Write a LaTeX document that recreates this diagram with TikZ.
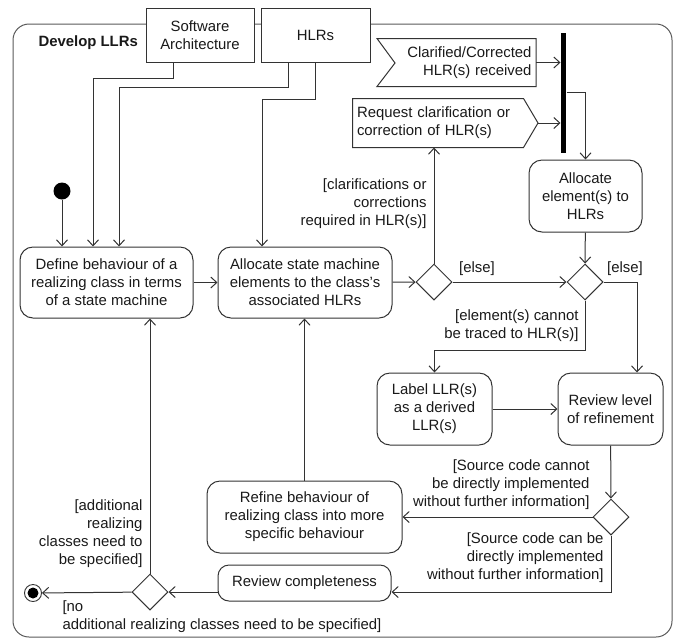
\documentclass[tikz,border=0pt]{standalone}
\usepackage{fontspec}
\setmainfont{Liberation Sans}
\usetikzlibrary{arrows.meta,shapes.geometric}

\begin{document}
\begin{tikzpicture}[x=1pt,y=-1pt,
  font=\fontsize{14.9}{18}\selectfont,
  line width=1pt, draw=black!80, text=black!90]
\tikzstyle{action}=[draw,rounded corners=13pt,align=center,inner sep=1pt]
\tikzstyle{decision}=[draw,diamond,minimum width=36pt,minimum height=36pt,inner sep=0]
\tikzstyle{guard}=[align=right,inner sep=0]
\tikzstyle{objbox}=[draw,fill=white,align=center,inner sep=1pt]
\tikzstyle{flow}=[-{Straight Barb[length=6pt,width=11pt]}]
\useasboundingbox (0,0) rectangle (676,641);
% frame
\draw[black!65,rounded corners=16pt] (13,24) rectangle (672,637);
\node[anchor=west,inner sep=0,font=\fontsize{14.9}{18}\selectfont\bfseries] (title) at (38,43) {Develop LLRs};
% object nodes
\node[objbox,minimum width=108pt,minimum height=54pt] (sa) at (200,35) {Software\\Architecture};
\node[objbox,minimum width=109pt,minimum height=54pt] (hlr) at (315.5,35) {HLRs};
% signals
\node[align=right,text width=150pt,inner xsep=4pt,minimum height=47pt] (recv) at (456.5,62.5) {Clarified/Corrected\\HLR(s) received};
\draw (recv.north west) -- (recv.north east) -- (recv.south east) -- (recv.south west) -- (395,63) -- cycle;
\node[align=left,text width=162pt,inner xsep=4pt,minimum height=48pt] (send) at (438,123) {Request clarification or\\correction of HLR(s)};
\coordinate (sendtip) at (538,123);
\draw (send.north west) -- (send.north east) -- (sendtip) -- (send.south east) -- (send.south west) -- cycle;
\node[fill=black,minimum width=5pt,minimum height=120pt,inner sep=0] (bar) at (563.5,92.5) {};
% start / end
\node[circle,fill=black,minimum size=17pt,inner sep=0] (init) at (62,191) {};
\node[circle,draw,line width=0.9pt,minimum size=17pt,inner sep=0] (final) at (33,593) {};
\fill (final) circle (5.5pt);
% actions
\node[action,minimum width=173pt,minimum height=71pt] (define) at (106.5,282.5) {Define behaviour of a\\realizing class in terms\\of a state machine};
\node[action,minimum width=174pt,minimum height=71pt] (alloc) at (305,282.5) {Allocate state machine\\elements to the class's\\associated HLRs};
\node[action,minimum width=113pt,minimum height=72pt] (allocel) at (585.5,196) {Allocate\\element(s) to\\HLRs};
\node[action,minimum width=115pt,minimum height=72pt] (label) at (434.5,409) {Label LLR(s)\\as a derived\\LLR(s)};
\node[action,minimum width=105pt,minimum height=72pt] (review) at (610.5,409) {Review level\\of refinement};
\node[action,minimum width=195pt,minimum height=72pt] (refine) at (304.5,517) {Refine behaviour of\\realizing class into more\\specific behaviour};
\node[action,rounded corners=11pt,minimum width=173pt,minimum height=36pt] (complete) at (304.5,583) {Review completeness};
% decisions
\node[decision] (d1) at (434,282) {};
\node[decision] (d2) at (585,282) {};
\node[decision] (d3) at (611,517) {};
\node[decision] (d4) at (150,592) {};
% guards
\node[guard,anchor=east] (gclar) at (427,204) {[clarifications or\\corrections\\required in HLR(s)]};
\node[guard] (gelse1) at (477,269) {[else]};
\node[guard] (gelse2) at (625,269) {[else]};
\node[guard,anchor=east] (gtrace) at (579,326) {[element(s) cannot\\be traced to HLR(s)]};
\node[guard,anchor=east] (gcannot) at (590,485) {[Source code cannot\\be directly implemented\\without further information]};
\node[guard,anchor=east] (gcan) at (604,558) {[Source code can be\\directly implemented\\without further information]};
\node[guard,anchor=east] (gmore) at (143,534) {[additional\\realizing\\classes need to\\be specified]};
\node[align=left,inner sep=0,anchor=west] (gno) at (62,617) {[no\\additional realizing classes need to be specified]};
% object flows
\draw[flow] (sa.south -| 173,0) -- ++(0,16) -| (define.north -| 93,0);
\draw[flow] (hlr.south -| 288,0) -- ++(0,25) -| (define.north -| 119,0);
\draw[flow] (hlr.south -| 315,0) -- ++(0,37) -| (alloc.north -| 262,0);
% control flows
\draw[flow] (init) -- (define.north -| init);
\draw[flow] (define) -- (alloc);
\draw[flow] (alloc) -- (d1);
\draw[flow] (d1) -- (send.south -| d1);
\draw[flow] (d1) -- (d2);
\draw[flow] (recv.east) -- (recv.east -| bar.west);
\draw[flow] (sendtip) -- (sendtip -| bar.west);
\draw[flow] (bar.east) -| (allocel.north);
\draw[flow] (allocel) -- (d2);
\draw[flow] (d2.east) -| (review.north -| 637,0);
\draw[flow] (d2.south) -- ++(0,50) -| (label.north);
\draw[flow] (label) -- (review);
\draw[flow] (review) -- (d3);
\draw[flow] (d3) -- (refine);
\draw[flow] (d3.south) |- (complete.east |- d4);
\draw[flow] (refine) -- (alloc.south -| refine);
\draw[flow] (complete.west |- d4) -- (d4);
\draw[flow] (d4) -- (final);
\draw[flow] (d4) -- (define.south -| d4);
\end{tikzpicture}
\end{document}
